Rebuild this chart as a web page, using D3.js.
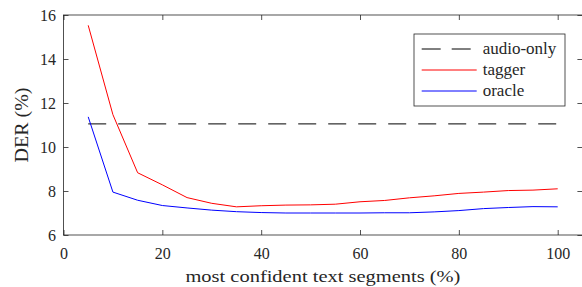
<!DOCTYPE html>
<html>
<head>
<meta charset="utf-8">
<script src="https://cdn.jsdelivr.net/npm/d3@7"></script>
<style>
  body { margin: 0; background: #fff; }
  svg { display: block; }
  svg text { font-family: "Liberation Serif", "DejaVu Serif", serif; }
</style>
</head>
<body>
<div id="d3"></div>
<script>
const segments = [5, 10, 15, 20, 25, 30, 35, 40, 45, 50, 55, 60, 65, 70, 75, 80, 85, 90, 95, 100];
const tagger = [15.53, 11.47, 8.83, 8.28, 7.7, 7.44, 7.28, 7.33, 7.36, 7.37, 7.4, 7.51, 7.57, 7.69, 7.78, 7.89, 7.95, 8.02, 8.04, 8.1];
const oracle = [11.37, 7.95, 7.58, 7.34, 7.23, 7.13, 7.06, 7.02, 7.0, 7.0, 7.0, 7.0, 7.01, 7.01, 7.05, 7.11, 7.2, 7.25, 7.29, 7.28];
const audioOnly = 11.05;
const xTicks = [0, 20, 40, 60, 80, 100];
const yTicks = [6, 8, 10, 12, 14, 16];

const width = 582;
const height = 287;
const margin = { top: 15, left: 63.5, bottom: 52 };
const plotRight = 582.4;

const chart = d3.select("#d3").append("svg")
  .attr("width", width)
  .attr("height", height);

const x = d3.scaleLinear().domain([0, 105]).range([margin.left, plotRight]);
const y = d3.scaleLinear().domain([6, 16]).range([height - margin.bottom, margin.top]);

const axisColor = "#262626";

// axes with inward ticks on all four sides
const axisBottomG = chart.append("g")
  .attr("transform", `translate(0, ${y(6)})`)
  .call(d3.axisBottom(x).tickValues(xTicks).tickSizeInner(-5).tickSizeOuter(0).tickPadding(12.5));
const axisLeftG = chart.append("g")
  .attr("transform", `translate(${x(0)}, 0)`)
  .call(d3.axisLeft(y).tickValues(yTicks).tickSizeInner(-5).tickSizeOuter(0).tickPadding(7.5));
const axisTopG = chart.append("g")
  .attr("transform", `translate(0, ${y(16)})`)
  .call(d3.axisTop(x).tickValues(xTicks).tickSizeInner(-5).tickSizeOuter(0).tickFormat(""));
const axisRightG = chart.append("g")
  .attr("transform", `translate(${x(105)}, 0)`)
  .call(d3.axisRight(y).tickValues(yTicks).tickSizeInner(-5).tickSizeOuter(0).tickFormat(""));

[axisBottomG, axisLeftG, axisTopG, axisRightG].forEach(g => {
  g.attr("font-family", null).attr("font-size", null);
  g.select(".domain").remove();
  g.selectAll("line").attr("stroke", axisColor).attr("stroke-width", 0.8);
  g.selectAll("text")
    .attr("fill", axisColor)
    .style("font-size", "16px");
});

chart.append("rect")
  .attr("x", x(0))
  .attr("y", y(16))
  .attr("width", x(105) - x(0))
  .attr("height", y(6) - y(16))
  .attr("fill", "none")
  .attr("stroke", axisColor)
  .attr("stroke-width", 0.8);

// lines
const line = d3.line()
  .x((d, i) => x(segments[i]))
  .y(d => y(d));

chart.append("line")
  .attr("x1", x(5))
  .attr("x2", x(100))
  .attr("y1", y(audioOnly))
  .attr("y2", y(audioOnly))
  .attr("stroke", "#000")
  .attr("stroke-width", 1)
  .attr("stroke-dasharray", "18,12");

chart.append("path")
  .datum(tagger)
  .attr("d", line)
  .attr("fill", "none")
  .attr("stroke", "#ff0000")
  .attr("stroke-width", 1);

chart.append("path")
  .datum(oracle)
  .attr("d", line)
  .attr("fill", "none")
  .attr("stroke", "#0000ff")
  .attr("stroke-width", 1);

// axis titles
chart.append("text")
  .attr("x", (x(0) + x(105)) / 2)
  .attr("y", 281.7)
  .attr("text-anchor", "middle")
  .attr("fill", axisColor)
  .attr("textLength", 275)
  .attr("lengthAdjust", "spacingAndGlyphs")
  .style("font-size", "17.5px")
  .text("most confident text segments (%)");

chart.append("text")
  .attr("transform", `translate(28, ${(y(6) + y(16)) / 2}) rotate(-90)`)
  .attr("text-anchor", "middle")
  .attr("fill", axisColor)
  .attr("textLength", 75)
  .attr("lengthAdjust", "spacingAndGlyphs")
  .style("font-size", "18px")
  .text("DER (%)");

// legend
const legendItems = [
  { name: "audio-only", color: "#000", dash: "19,11" },
  { name: "tagger", color: "#ff0000", dash: null },
  { name: "oracle", color: "#0000ff", dash: null }
];

const legend = chart.append("g").attr("id", "legend");
legend.append("rect")
  .attr("x", 414)
  .attr("y", 34)
  .attr("width", 151)
  .attr("height", 72)
  .attr("fill", "#fff")
  .attr("stroke", axisColor)
  .attr("stroke-width", 0.8);

const item = legend.selectAll(".legend-item")
  .data(legendItems)
  .enter()
  .append("g")
  .attr("class", "legend-item")
  .attr("transform", (d, i) => `translate(0, ${49 + i * 21})`);

item.append("line")
  .attr("x1", 421.7)
  .attr("x2", 476.7)
  .attr("stroke", d => d.color)
  .attr("stroke-width", 1)
  .attr("stroke-dasharray", d => d.dash);

item.append("text")
  .attr("x", 482.7)
  .attr("dy", "0.3em")
  .attr("fill", axisColor)
  .style("font-size", "17px")
  .text(d => d.name);
</script>
</body>
</html>
